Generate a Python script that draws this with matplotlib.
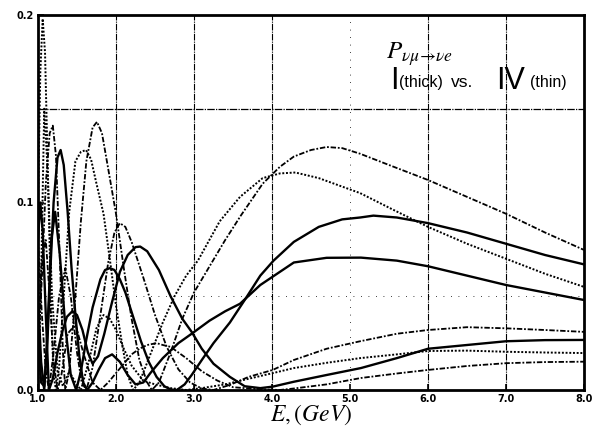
import matplotlib
matplotlib.use("Agg")
import matplotlib.pyplot as plt

plt.rcParams["mathtext.fontset"] = "stix"

# ---------------- data ----------------
# Thick solid curves (case I)
s1_x = [1.00, 1.04, 1.08, 1.12, 1.17, 1.22, 1.28, 1.35, 1.42, 1.49, 1.55, 1.62, 1.70, 1.80, 1.86, 1.92, 1.98, 2.05, 2.12, 2.22, 2.32, 2.42, 2.52, 2.62, 2.70, 2.78, 2.88, 2.97, 3.10, 3.25, 3.46, 3.65, 3.85, 4.02, 4.28, 4.60, 4.90, 5.13, 5.30, 5.60, 6.00, 6.50, 7.00, 7.50, 8.00]
s1_y = [0.050, 0.015, 0.000, 0.030, 0.080, 0.095, 0.072, 0.034, 0.008, 0.000, 0.010, 0.027, 0.044, 0.059, 0.064, 0.065, 0.064, 0.059, 0.052, 0.039, 0.026, 0.015, 0.007, 0.002, 0.0003, 0.000, 0.003, 0.008, 0.016, 0.025, 0.036, 0.048, 0.061, 0.069, 0.079, 0.087, 0.091, 0.092, 0.093, 0.092, 0.089, 0.084, 0.078, 0.072, 0.067]

s2_x = [1.00, 1.04, 1.08, 1.12, 1.16, 1.20, 1.25, 1.29, 1.33, 1.38, 1.43, 1.48, 1.53, 1.58, 1.63, 1.70, 1.78, 1.86, 1.95, 2.05, 2.15, 2.25, 2.35, 2.44, 2.60, 2.80, 2.97, 3.20, 3.40, 3.59, 3.85, 4.28, 4.70, 5.14, 5.60, 6.00, 6.50, 7.00, 7.50, 8.00]
s2_y = [0.030, 0.004, 0.002, 0.025, 0.065, 0.100, 0.124, 0.128, 0.120, 0.095, 0.065, 0.040, 0.018, 0.004, 0.000, 0.004, 0.011, 0.017, 0.019, 0.015, 0.008, 0.003, 0.004, 0.009, 0.017, 0.025, 0.030, 0.037, 0.042, 0.046, 0.056, 0.068, 0.0705, 0.0706, 0.069, 0.066, 0.061, 0.056, 0.052, 0.048]

s3_x = [1.00, 1.03, 1.06, 1.10, 1.14, 1.19, 1.25, 1.31, 1.37, 1.44, 1.50, 1.57, 1.64, 1.70, 1.77, 1.85, 1.95, 2.05, 2.15, 2.25, 2.31, 2.40, 2.55, 2.70, 2.85, 2.97, 3.10, 3.25, 3.46, 3.65, 3.85, 4.01, 4.28, 4.70, 5.14, 5.60, 6.00, 6.50, 7.00, 7.50, 8.00]
s3_y = [0.080, 0.100, 0.085, 0.040, 0.000, 0.006, 0.020, 0.031, 0.039, 0.042, 0.040, 0.032, 0.020, 0.014, 0.018, 0.030, 0.047, 0.063, 0.072, 0.0762, 0.0765, 0.074, 0.064, 0.050, 0.038, 0.031, 0.022, 0.014, 0.007, 0.002, 0.001, 0.0018, 0.0044, 0.008, 0.0117, 0.017, 0.022, 0.024, 0.026, 0.0266, 0.0267]

# Thin curves (case IV)
d1_x = [1.00, 1.05, 1.10, 1.15, 1.19, 1.23, 1.28, 1.32, 1.35, 1.40, 1.48, 1.55, 1.62, 1.70, 1.756, 1.82, 1.90, 2.00, 2.10, 2.20, 2.30, 2.40, 2.46, 2.55, 2.70, 2.85, 3.00, 3.20, 3.40, 3.60, 3.88, 4.10, 4.28, 4.50, 4.70, 4.90, 5.13, 5.50, 6.00, 6.50, 7.00, 7.50, 8.00]
d1_y = [0.020, 0.060, 0.110, 0.137, 0.141, 0.125, 0.070, 0.020, 0.000, 0.010, 0.050, 0.090, 0.122, 0.140, 0.143, 0.137, 0.118, 0.094, 0.065, 0.038, 0.016, 0.004, 0.000, 0.004, 0.020, 0.038, 0.052, 0.066, 0.080, 0.093, 0.110, 0.119, 0.1245, 0.128, 0.1296, 0.129, 0.126, 0.120, 0.112, 0.103, 0.094, 0.084, 0.0747]

d2_x = [1.00, 1.03, 1.06, 1.09, 1.13, 1.17, 1.20, 1.23, 1.27, 1.33, 1.40, 1.48, 1.55, 1.615, 1.68, 1.75, 1.84, 1.92, 2.00, 2.08, 2.15, 2.22, 2.30, 2.45, 2.60, 2.75, 2.90, 3.05, 3.33, 3.59, 3.88, 4.10, 4.30, 4.60, 5.13, 5.56, 6.00, 6.50, 7.00, 7.50, 8.00]
d2_y = [0.100, 0.170, 0.198, 0.180, 0.110, 0.040, 0.008, 0.000, 0.012, 0.050, 0.095, 0.122, 0.127, 0.128, 0.123, 0.110, 0.094, 0.070, 0.045, 0.024, 0.008, 0.000, 0.004, 0.020, 0.036, 0.050, 0.061, 0.069, 0.090, 0.103, 0.113, 0.1155, 0.116, 0.113, 0.105, 0.096, 0.087, 0.078, 0.070, 0.062, 0.055]

d3_x = [1.00, 1.05, 1.10, 1.14, 1.20, 1.27, 1.35, 1.42, 1.50, 1.56, 1.62, 1.70, 1.80, 1.90, 1.98, 2.05, 2.12, 2.20, 2.35, 2.50, 2.65, 2.80, 2.95, 3.10, 3.25, 3.46, 3.70, 4.01, 4.28, 4.70, 5.13, 5.60, 6.00, 6.50, 7.00, 7.50, 8.00]
d3_y = [0.080, 0.040, 0.010, 0.000, 0.020, 0.050, 0.065, 0.050, 0.020, 0.004, 0.000, 0.012, 0.040, 0.068, 0.084, 0.089, 0.087, 0.079, 0.060, 0.040, 0.023, 0.011, 0.004, 0.0008, 0.000, 0.0027, 0.007, 0.0107, 0.016, 0.022, 0.026, 0.030, 0.032, 0.0335, 0.0329, 0.032, 0.031]

d4_x = [1.00, 1.04, 1.08, 1.12, 1.18, 1.25, 1.32, 1.40, 1.48, 1.55, 1.65, 1.75, 1.84, 1.92, 2.00, 2.10, 2.20, 2.35, 2.50, 2.70, 2.90, 3.10, 3.40, 3.70, 4.01, 4.28, 4.70, 5.13, 5.60, 6.00, 6.50, 7.00, 7.50, 8.00]
d4_y = [0.000, 0.060, 0.150, 0.120, 0.050, 0.010, 0.002, 0.010, 0.004, 0.000, 0.015, 0.033, 0.040, 0.038, 0.032, 0.022, 0.013, 0.005, 0.003, 0.001, 0.000, 0.001, 0.003, 0.006, 0.009, 0.0117, 0.0145, 0.017, 0.019, 0.0208, 0.021, 0.0204, 0.020, 0.0197]

d5_x = [1.00, 1.05, 1.10, 1.15, 1.20, 1.25, 1.30, 1.38, 1.48, 1.58, 1.70, 1.80, 1.90, 2.00, 2.10, 2.20, 2.30, 2.40, 2.52, 2.60, 2.70, 2.90, 3.10, 3.30, 3.50, 3.80, 4.10, 4.28, 4.70, 5.14, 5.60, 6.00, 6.50, 7.00, 7.50, 8.00]
d5_y = [0.030, 0.070, 0.080, 0.050, 0.015, 0.000, 0.008, 0.030, 0.035, 0.020, 0.004, 0.000, 0.004, 0.009, 0.014, 0.019, 0.022, 0.024, 0.025, 0.024, 0.023, 0.017, 0.010, 0.005, 0.0015, 0.0005, 0.000, 0.0008, 0.003, 0.0064, 0.0088, 0.0107, 0.0128, 0.0143, 0.0149, 0.0151]

x_ticks = [1.0, 2.0, 3.0, 4.0, 5.0, 6.0, 7.0, 8.0]
x_tick_labels = ["1.0", "2.0", "3.0", "4.0", "5.0", "6.0", "7.0", "8.0"]
y_ticks = [0.0, 0.1, 0.2]
y_tick_labels = ["0.0", "0.1", "0.2"]

# ---------------- figure ----------------
W, H = 594, 430
fig = plt.figure(figsize=(W / 100, H / 100), dpi=100)
ax = fig.add_axes([38 / W, 40 / H, 546 / W, 375 / H])
ax.set_xlim(1.0, 8.0)
ax.set_ylim(0.0, 0.2)

# grid
for gx in [2.0, 3.0, 4.0, 6.0, 7.0]:
    ax.axvline(gx, color="black", lw=0.8, ls=(0, (6, 1, 1, 1)), zorder=1)
ax.axvline(5.0, color="black", lw=0.6, ls=(0, (1, 8)), zorder=1)
ax.axhline(0.15, color="black", lw=0.9, ls=(0, (6, 1, 1, 1)), zorder=1)
ax.axhline(0.05, color="black", lw=0.6, ls=(0, (1, 8)), zorder=1)

thick = dict(color="black", lw=1.7, ls="-", zorder=3)
dot = dict(color="black", lw=1.4, ls=(0, (1, 0.9)), zorder=3)
dashdot = dict(color="black", lw=1.3, ls=(0, (3, 1, 1, 1)), zorder=3)

ax.plot(s1_x, s1_y, **thick)
ax.plot(s2_x, s2_y, **thick)
ax.plot(s3_x, s3_y, **thick)
ax.plot(d1_x, d1_y, **dashdot)
ax.plot(d2_x, d2_y, **dot)
ax.plot(d3_x, d3_y, **dashdot)
ax.plot(d4_x, d4_y, **dot)
ax.plot(d5_x, d5_y, **dashdot)

for sp in ax.spines.values():
    sp.set_linewidth(2.0)

ax.set_xticks(x_ticks)
ax.set_xticklabels(x_tick_labels, fontsize=7, fontweight="bold")
ax.set_yticks(y_ticks)
ax.set_yticklabels(y_tick_labels, fontsize=7, fontweight="bold")
ax.tick_params(direction="in", length=4, width=1.2, pad=3)


def ftext(px, py, s, **kw):
    fig.text(px / W, 1 - py / H, s, ha="left", va="baseline", **kw)


# annotations (pixel positions)
ftext(386, 59, r"$P_{\nu\mu\!\rightarrow\!\nu e}$", fontsize=18)
ftext(390, 89, "I", fontsize=22, family="Liberation Sans")
ftext(399, 87, "(thick)", fontsize=11.5, family="Liberation Sans")
ftext(451, 87, "vs.", fontsize=12.5, family="Liberation Sans")
ftext(496, 89, "IV", fontsize=22, family="Liberation Sans")
ftext(530, 87, "(thin)", fontsize=11.5, family="Liberation Sans")

fig.text(311 / W, 1 - 421 / H, r"$E,(GeV)$", fontsize=17, ha="center", va="baseline")

fig.savefig("out.png", dpi=100)
